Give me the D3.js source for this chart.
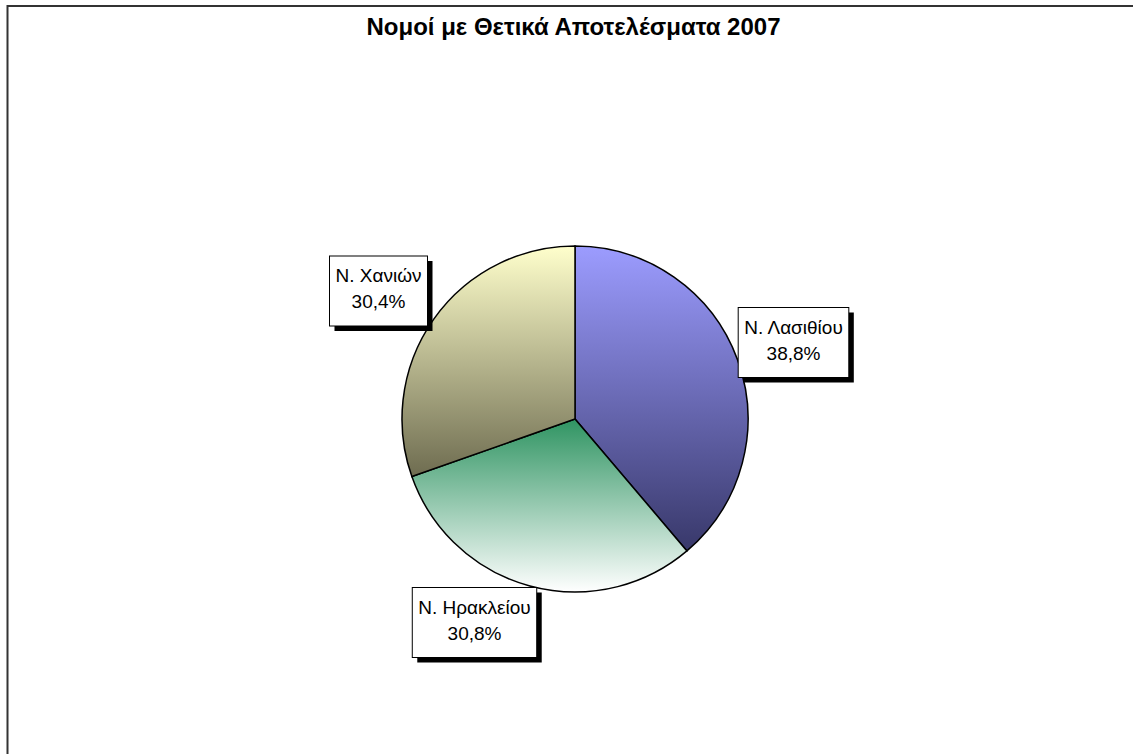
<!DOCTYPE html>
<html>
<head>
<meta charset="utf-8">
<script src="https://cdn.jsdelivr.net/npm/d3@7"></script>
<style>
  body { margin: 0; background: #fff; }
  svg { display: block; }
</style>
</head>
<body>
<div id="pie"></div>
<script>
const FRAME_WIDTH = 1133;
const FRAME_HEIGHT = 754;

const names = ["Ν. Λασιθίου", "Ν. Ηρακλείου", "Ν. Χανιών"];
const values = [38.8, 30.8, 30.4];
const labels = ["38,8%", "30,8%", "30,4%"];

// gradient colours per slice, top -> bottom
const grads = [["#9c9cff", "#38386a"], ["#2f9462", "#ffffff"], ["#ffffcc", "#6e6c50"]];
// label box centres (relative to pie centre)
const boxPos = [[218.5, -76.5], [-100.5, 203.5], [-196.5, -128]];

const CX = 575, CY = 419, R = 173;

const FRAME1 = d3.select("#pie")
                  .append("svg")
                    .attr("width", FRAME_WIDTH)
                    .attr("height", FRAME_HEIGHT);

// chart border (right/bottom run off the page)
FRAME1.append("rect")
      .attr("x", 7.5).attr("y", 6)
      .attr("width", FRAME_WIDTH + 20).attr("height", FRAME_HEIGHT + 20)
      .attr("fill", "none")
      .attr("stroke", "#333")
      .attr("stroke-width", 2);

FRAME1.append("text")
      .attr("x", 573.5).attr("y", 34.5)
      .attr("text-anchor", "middle")
      .attr("font-family", "Liberation Sans, Arial, sans-serif")
      .attr("font-weight", "bold")
      .attr("font-size", "24px")
      .text("Νομοί με Θετικά Αποτελέσματα 2007");

const defs = FRAME1.append("defs");
grads.forEach((g, i) => {
  const lg = defs.append("linearGradient")
                 .attr("id", "g" + i)
                 .attr("x1", 0).attr("y1", 0).attr("x2", 0).attr("y2", 1);
  lg.append("stop").attr("offset", "0%").attr("stop-color", g[0]);
  lg.append("stop").attr("offset", "100%").attr("stop-color", g[1]);
});

const pie = d3.pie().sort(null).value((d) => d);
const arc = d3.arc().innerRadius(0).outerRadius(R);
const arcs = pie(values);

const G = FRAME1.append("g").attr("transform", "translate(" + CX + "," + CY + ")");

G.selectAll("slices")
 .data(arcs)
 .enter()
 .append("path")
   .attr("d", arc)
   .attr("fill", (d, i) => "url(#g" + i + ")")
   .attr("stroke", "#000")
   .attr("stroke-width", 1.5);

// labels with drop shadow boxes
const BOX_H = 70;
arcs.forEach((d, i) => {
  const [bx, by] = boxPos[i];
  const lbl = G.append("g").attr("transform", "translate(" + bx + "," + by + ")");
  const t1 = lbl.append("text")
                .attr("text-anchor", "middle")
                .attr("y", -9)
                .attr("font-family", "Liberation Sans, Arial, sans-serif")
                .attr("font-size", "19px")
                .text(names[i]);
  const w = t1.node().getComputedTextLength() + 12;
  lbl.insert("rect", "text")
     .attr("x", -w / 2 + 5).attr("y", -BOX_H / 2 + 5)
     .attr("width", w).attr("height", BOX_H)
     .attr("fill", "#000");
  lbl.insert("rect", "text")
     .attr("x", -w / 2).attr("y", -BOX_H / 2)
     .attr("width", w).attr("height", BOX_H)
     .attr("fill", "#fff")
     .attr("stroke", "#000")
     .attr("stroke-width", 1);
  lbl.append("text")
     .attr("text-anchor", "middle")
     .attr("y", 17)
     .attr("font-family", "Liberation Sans, Arial, sans-serif")
     .attr("font-size", "19px")
     .text(labels[i]);
});
</script>
</body>
</html>
